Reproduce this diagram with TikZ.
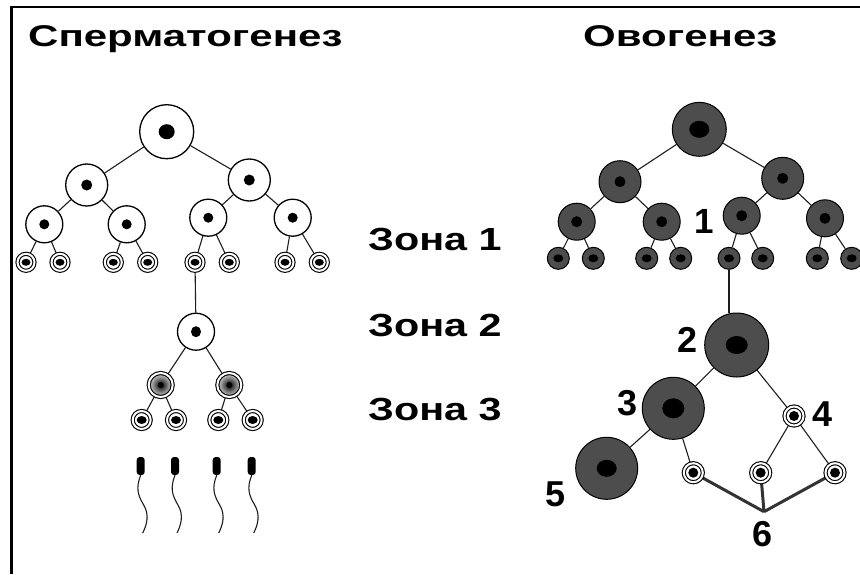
\documentclass[tikz,border=0pt]{standalone}
\usepackage{fontspec}
\setmainfont{Liberation Sans}
\usetikzlibrary{backgrounds}
\definecolor{cg}{RGB}{77,77,77}
\definecolor{ln}{RGB}{30,30,30}
\begin{document}
\begin{tikzpicture}[x=1pt,y=-1pt,
  link/.style={line width=1.1pt, ln},
  thick link/.style={line width=3pt, black!80},
  wc/.style 2 args={circle, draw=black, line width=1.3pt, fill=white, inner sep=0pt, minimum size=#1,
     path picture={\fill[black] (path picture bounding box.center) ellipse (#2);}},
  wd/.style 2 args={circle, draw=black, line width=1.1pt, double=white, double distance=2pt, fill=white, inner sep=0pt, minimum size=#1,
     path picture={\fill[black] (path picture bounding box.center) ellipse (#2);}},
  sd/.style={circle, draw=black, line width=1.1pt, double=white, double distance=2pt, fill=white, inner sep=0pt, minimum size=#1,
     path picture={\shade[inner color=black, outer color=white] (path picture bounding box.center) circle (14pt);
                   \fill[black] (path picture bounding box.center) circle (3pt);}},
  dc/.style 2 args={circle, draw=black, line width=1pt, fill=cg, inner sep=0pt, minimum size=#1,
     path picture={\fill[black] (path picture bounding box.center) ellipse (#2);}},
  head/.style={rectangle, rounded corners=3pt, fill=black, inner sep=0pt, minimum width=8pt, minimum height=18pt},
  tail/.style={line width=1.1pt, ln},
  title/.style={font=\fontsize{30}{36}\selectfont\bfseries, inner sep=0pt},
  zone/.style={font=\fontsize{32}{38}\selectfont\bfseries, inner sep=0pt, anchor=base west},
  num/.style={font=\fontsize{36}{40}\selectfont\bfseries, inner sep=0pt},
]
\useasboundingbox (0,0) rectangle (860,574);
\clip (0,0) rectangle (860,574);
\draw[line width=2.2pt] (11.5,574) -- (11.5,6.7) -- (860,6.7);

% titles
\node[title, anchor=base west] (t1) at (28,46) {\scalebox{1.4}[1]{Сперматогенез}};
\node[title, anchor=base west] (t2) at (583,46) {\scalebox{1.4}[1]{Овогенез}};
\node[zone] (z1) at (368,250) {\scalebox{1.29}[1]{Зона 1}};
\node[zone] (z2) at (368,336.5) {\scalebox{1.29}[1]{Зона 2}};
\node[zone] (z3) at (368,420) {\scalebox{1.29}[1]{Зона 3}};

% ---------- spermatogenesis ----------
\node[wc={54pt}{8pt and 7.5pt}] (s0) at (166.7,131.7) {};
\node[wc={42pt}{5.5pt and 5.5pt}] (s1) at (86.7,185) {};
\node[wc={42pt}{5.5pt and 5.5pt}] (s2) at (249.3,180) {};
\node[wc={37pt}{5pt and 5pt}] (s11) at (44.3,224.3) {};
\node[wc={37pt}{5pt and 5pt}] (s12) at (126.7,224.3) {};
\node[wc={37pt}{5pt and 5pt}] (s21) at (208.3,217.7) {};
\node[wc={37pt}{5pt and 5pt}] (s22) at (292.7,217.7) {};
\foreach \x [count=\i] in {26,60,113.3,147.7,195,229.3,285,319.3}
  \node[wd={17pt}{4.5pt and 3.5pt}] (a\i) at (\x,262.3) {};
\node[wc={37pt}{5pt and 5.5pt}] (q0) at (196,331.7) {};
\node[sd=24pt] (b1) at (160.7,385) {};
\node[sd=24pt] (b2) at (229.3,385) {};
\foreach \x [count=\i] in {141.7,176,218.3,252.7}
  \node[wd={18pt}{5pt and 4pt}] (c\i) at (\x,420) {};
\foreach \x [count=\i] in {140.7,175,216.7,251.7}{
  \node[head] (h\i) at (\x,466) {};
  \draw[tail] (h\i.south) .. controls (\x-5,488) and (\x-3,495) .. (\x+3,505)
              .. controls (\x+9,515) and (\x+6,525) .. (\x+2,533);
}

% ---------- oogenesis ----------
\node[dc={54pt}{10pt and 8.5pt}] (o0) at (699.3,129.3) {};
\node[dc={42pt}{5.5pt and 5.5pt}] (o1) at (620,181.7) {};
\node[dc={42pt}{5.5pt and 5.5pt}] (o2) at (782.7,178.3) {};
\node[dc={37pt}{5.5pt and 5.5pt}] (o11) at (576.7,221.7) {};
\node[dc={37pt}{5.5pt and 5.5pt}] (o12) at (661.7,221.7) {};
\node[dc={37pt}{5.5pt and 5.5pt}] (o21) at (741.7,215.7) {};
\node[dc={37pt}{5.5pt and 5.5pt}] (o22) at (825,218.3) {};
\foreach \x [count=\i] in {558.3,593.3,646.7,680.7,729,762.7,817.3,851.7}
  \node[dc={22pt}{5pt and 4pt}] (d\i) at (\x,258.3) {};
\node[dc={64pt}{11pt and 9pt}] (k2) at (736.7,345) {};
\node[dc={62pt}{11pt and 10pt}] (k3) at (673.3,408.3) {};
\node[dc={62pt}{10pt and 8.5pt}] (k5) at (606.7,468.3) {};
\node[wd={19pt}{5pt and 5pt}] (k4) at (794,416) {};
\node[wd={19pt}{5pt and 5pt}] (m1) at (693.3,472.7) {};
\node[wd={19pt}{5pt and 5pt}] (m2) at (760.7,472.7) {};
\node[wd={19pt}{5pt and 5pt}] (m3) at (835,472.7) {};
\coordinate (j) at (764,511.7);

\node[num, font=\fontsize{35}{40}\selectfont\bfseries] (n1) at (704,221) {1};
\node[num] (n2) at (688,340) {2};
\node[num] (n3) at (628,403.5) {3};
\node[num] (n4) at (823,414) {4};
\node[num] (n5) at (556,494) {5};
\node[num] (n6) at (763,534) {6};

% ---------- connectors ----------
\begin{scope}[on background layer]
  \fill[white] (0,0) rectangle (860,574);
  \draw[link] (s0) -- (s1);  \draw[link] (s0) -- (s2);
  \draw[link] (s1) -- (s11); \draw[link] (s1) -- (s12);
  \draw[link] (s2) -- (s21); \draw[link] (s2) -- (s22);
  \draw[link] (s11) -- (a1); \draw[link] (s11) -- (a2);
  \draw[link] (s12) -- (a3); \draw[link] (s12) -- (a4);
  \draw[link] (s21) -- (a5); \draw[link] (s21) -- (a6);
  \draw[link] (s22) -- (a7); \draw[link] (s22) -- (a8);
  \draw[link] (a5) -- (q0);
  \draw[link] (q0) -- (b1);  \draw[link] (q0) -- (b2);
  \draw[link] (b1) -- (c1);  \draw[link] (b1) -- (c2);
  \draw[link] (b2) -- (c3);  \draw[link] (b2) -- (c4);

  \draw[link] (o0) -- (o1);  \draw[link] (o0) -- (o2);
  \draw[link] (o1) -- (o11); \draw[link] (o1) -- (o12);
  \draw[link] (o2) -- (o21); \draw[link] (o2) -- (o22);
  \draw[link] (o11) -- (d1); \draw[link] (o11) -- (d2);
  \draw[link] (o12) -- (d3); \draw[link] (o12) -- (d4);
  \draw[link] (o21) -- (d5); \draw[link] (o21) -- (d6);
  \draw[link] (o22) -- (d7); \draw[link] (o22) -- (d8);
  \draw[link] (d5) -- (d5 |- k2.north);
  \draw[link] (k2) -- (k3);  \draw[link] (k2) -- (k4);
  \draw[link] (k3) -- (k5);  \draw[link] (k3) -- (m1);
  \draw[link] (k4) -- (m2);  \draw[link] (k4) -- (m3);
  \draw[thick link] (m1) -- (j);
  \draw[thick link] (m2) -- (j);
  \draw[thick link] (m3) -- (j);
\end{scope}
\end{tikzpicture}
\end{document}
